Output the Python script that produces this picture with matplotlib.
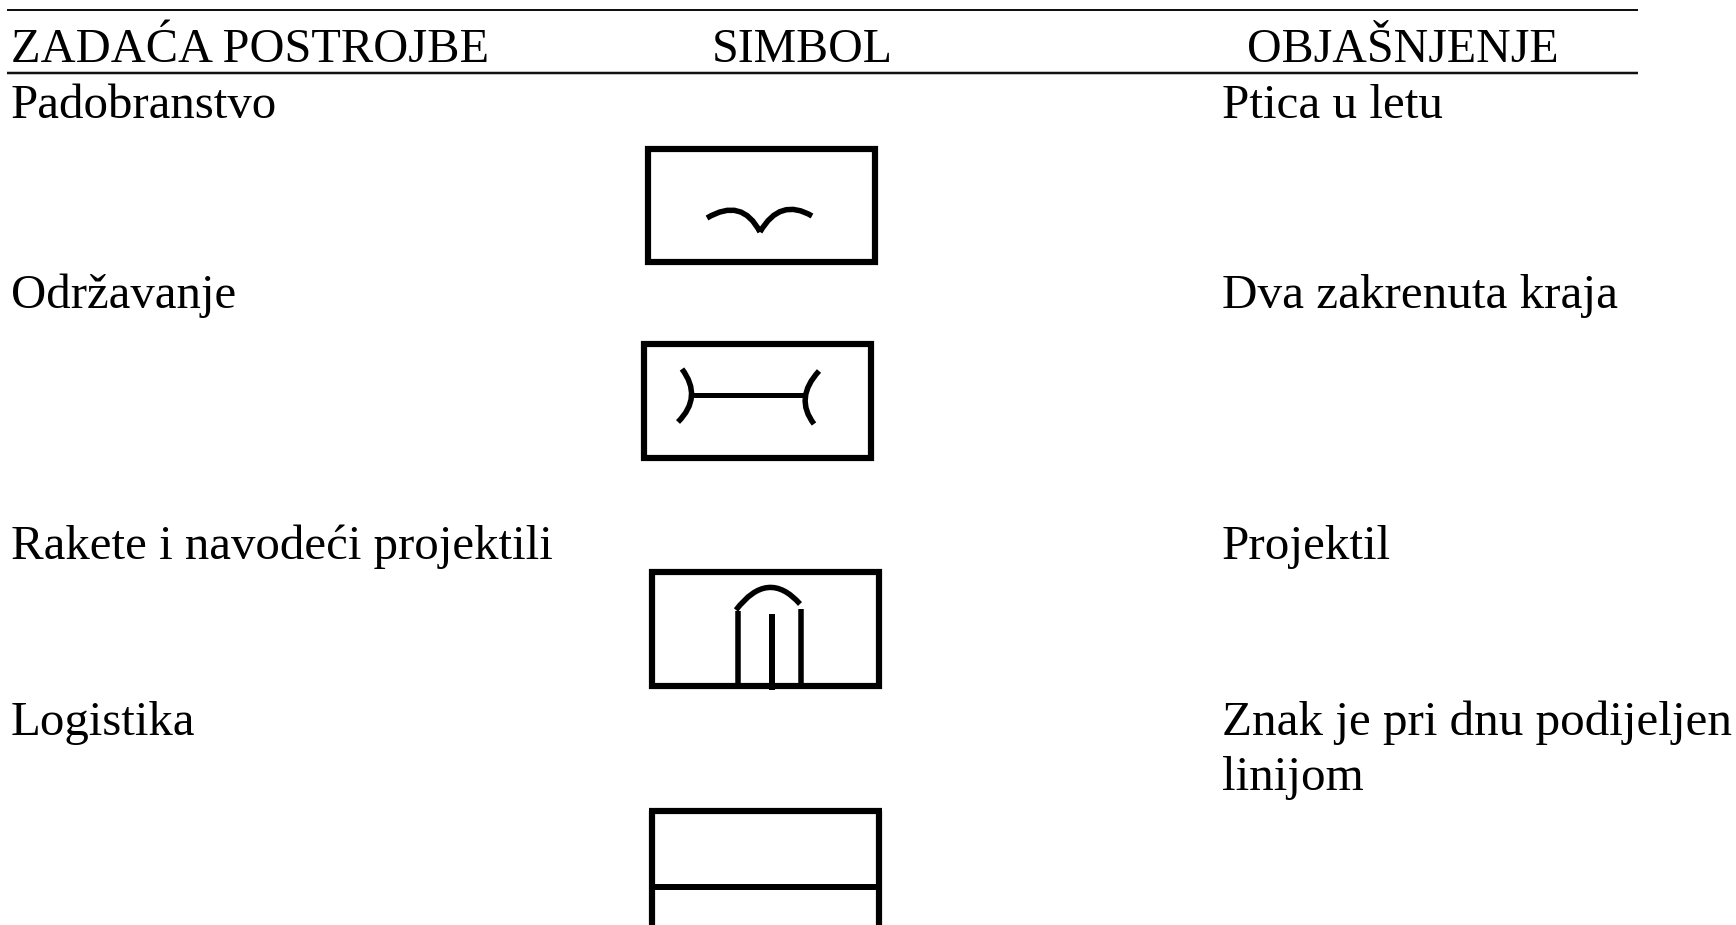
import matplotlib
matplotlib.use("Agg")
import matplotlib.pyplot as plt
from matplotlib.path import Path
from matplotlib.patches import PathPatch, Rectangle

W, H = 1736, 925
headers = ["ZADAĆA POSTROJBE", "SIMBOL", "OBJAŠNJENJE"]
header_x = [11, 712, 1247]
header_size = [34.8, 34.5, 34.5]
tasks = ["Padobranstvo", "Održavanje", "Rakete i navodeći projektili", "Logistika"]
task_y = [118, 308, 559, 735]
notes = ["Ptica u letu", "Dva zakrenuta kraja", "Projektil", "Znak je pri dnu podijeljen", "linijom"]
note_y = [118, 308, 559, 735, 790]
boxes = [(648, 149, 227, 113), (644, 344, 227, 114), (652, 572, 227, 114)]
open_box = (652, 811, 227)
rules = [(7, 1638, 10, 2.0), (7, 1638, 73, 2.5)]
PX = 72 / 100

fig = plt.figure(figsize=(W / 100, H / 100), dpi=100)
ax = fig.add_axes([0, 0, 1, 1])
ax.set_xlim(0, W); ax.set_ylim(H, 0); ax.axis("off")
font = dict(family="Liberation Serif", color="black", va="baseline")

for x0, x1, y, w in rules:
    ax.plot([x0, x1], [y, y], color="#111111", lw=w * PX, solid_capstyle="butt")
for x, s, fs in zip(header_x, headers, header_size):
    ax.text(x, 62, s, fontsize=fs, **font)
for s, y in zip(tasks, task_y):
    ax.text(11, y, s, fontsize=35.2, **font)
for s, y in zip(notes, note_y):
    ax.text(1222, y, s, fontsize=35.4, **font)
for x, y, w, h in boxes:
    ax.add_patch(Rectangle((x, y), w, h, fill=False, ec="black", lw=6.2 * PX, joinstyle="miter"))

def curve(pts, lw=5.5 * PX):
    codes = [Path.MOVETO] + [Path.CURVE3] * (len(pts) - 1)
    ax.add_patch(PathPatch(Path(pts, codes), fill=False, ec="black", lw=lw, capstyle="butt"))
def line(a, b, lw=5.5 * PX):
    ax.plot([a[0], b[0]], [a[1], b[1]], color="black", lw=lw, solid_capstyle="butt")

# bird
curve([(707, 218), (742, 197), (760, 232)])
curve([(760, 232), (780, 197), (812, 216)])
# two turned ends
curve([(682, 369), (703, 397), (678, 422)])
curve([(819, 371), (794, 398), (814, 424)])
line((692, 395), (806, 395), 5 * PX)
# missile
curve([(736, 610), (768, 568), (800, 604)])
line((738, 611), (738, 686))
line((801, 609), (801, 686))
line((772, 614), (772, 690), 6 * PX)
# logistics box: the bottom edge is cut off by the page
bx, by, bw = open_box
line((bx - 3, by), (bx + bw + 3, by), 6.2 * PX)
line((bx, by), (bx, H), 6.2 * PX)
line((bx + bw, by), (bx + bw, H), 6.2 * PX)
line((bx, 887), (bx + bw, 887), 6 * PX)

fig.savefig("out.png", dpi=100)
